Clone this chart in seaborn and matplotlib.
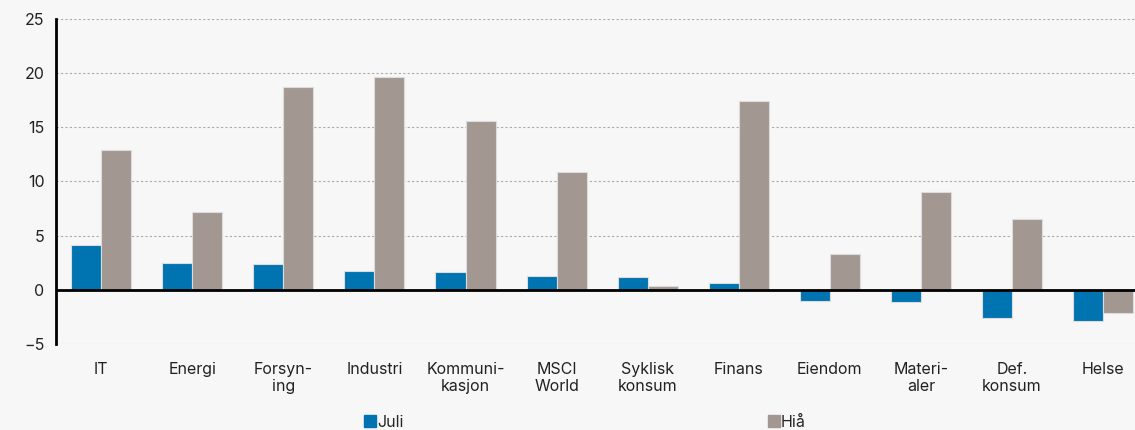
import pandas as pd
import matplotlib.pyplot as plt
import seaborn as sns
from matplotlib.lines import Line2D

sectors = ['IT', 'Energi', 'Forsyn-\ning', 'Industri', 'Kommuni-\nkasjon', 'MSCI\nWorld',
           'Syklisk\nkonsum', 'Finans', 'Eiendom', 'Materi-\naler', 'Def.\nkonsum', 'Helse']
juli = [4.1, 2.5, 2.4, 1.7, 1.6, 1.3, 1.2, 0.65, -1.0, -1.1, -2.6, -2.9]
hia = [12.9, 7.2, 18.7, 19.6, 15.6, 10.9, 0.35, 17.4, 3.3, 9.0, 6.5, -2.1]
series = ['Juli', 'Hiå']
colors = ['#0073B1', '#A39791']
bg = '#F7F7F7'

df = pd.DataFrame({'Sektor': sectors * 2,
                   'Serie': [series[0]] * len(sectors) + [series[1]] * len(sectors),
                   'Verdi': juli + hia})

sns.set_style('white')
plt.rcParams['font.family'] = ['Inter', 'DejaVu Sans']

fig = plt.figure(figsize=(11.35, 4.3), dpi=100, facecolor=bg)
ax = fig.add_axes([0.049, 0.2, 0.951, 0.756])
ax.set_facecolor(bg)

sns.barplot(data=df, x='Sektor', y='Verdi', hue='Serie', palette=colors, saturation=1,
            width=0.66, gap=0, edgecolor='#dcdcdc', linewidth=0.8, ax=ax, legend=False)

ax.set_xlim(-0.5, 11.35)
ax.set_ylim(-5, 25)
ax.set_yticks(range(-5, 26, 5))
for y in [-5, 5, 10, 15, 20, 25]:
    ax.axhline(y, color='#aaaaaa', lw=0.8, ls=(0, (2, 2)), zorder=0)
ax.axhline(0, color='black', lw=2, zorder=3)

for s in ['top', 'right', 'bottom']:
    ax.spines[s].set_visible(False)
ax.spines['left'].set_color('black')
ax.spines['left'].set_linewidth(2)

ax.tick_params(axis='both', length=0, labelsize=11.5, colors='#222222')
ax.tick_params(axis='x', pad=13)
ax.tick_params(axis='y', pad=8)
ax.set_xlabel('')
ax.set_ylabel('')

handles = [Line2D([], [], marker='s', ls='', color=c, markersize=9) for c in colors]
fig.legend(handles, series, loc='lower center', bbox_to_anchor=(0.515, -0.033), ncol=2,
           frameon=False, fontsize=11.5, handletextpad=0.05, columnspacing=22.8,
           handlelength=0.8)

fig.savefig('out.png', dpi=100, facecolor=bg)
